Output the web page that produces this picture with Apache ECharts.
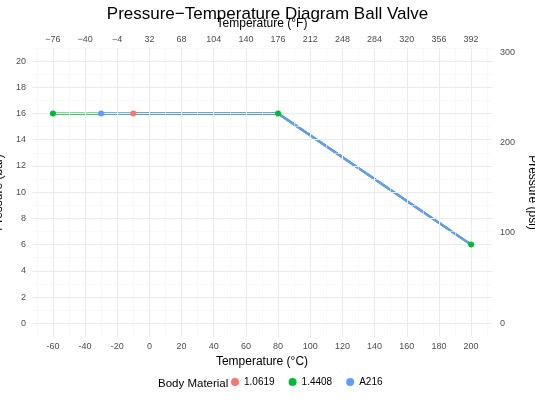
<!DOCTYPE html>
<html><head><meta charset="utf-8">
<script src="https://cdn.jsdelivr.net/npm/echarts@6/dist/echarts.min.js"></script>
<style>html,body{margin:0;padding:0;background:#fff}#c{width:535px;height:401px}</style>
</head><body><div id="c"></div>
<script>
// data
const materials = ['1.0619', '1.4408', 'A216'];
const colors = ['#F8766D', '#00BA38', '#619CFF'];
const lineData = {
  '1.0619': [[-10, 16], [80, 16], [200, 6]],
  '1.4408': [[-60, 16], [80, 16], [200, 6]],
  'A216':   [[-30, 16], [80, 16], [200, 6]]
};
const pointData = {
  '1.0619': [[-10, 16]],
  '1.4408': [[-60, 16], [80, 16], [200, 6]],
  'A216':   [[-30, 16]]
};
const cTicks = [-60, -40, -20, 0, 20, 40, 60, 80, 100, 120, 140, 160, 180, 200];
const cMinor = [-70, -50, -30, -10, 10, 30, 50, 70, 90, 110, 130, 150, 170, 190, 210];
const barTicks = [0, 2, 4, 6, 8, 10, 12, 14, 16, 18, 20];
const barMinor = [1, 3, 5, 7, 9, 11, 13, 15, 17, 19, 21];
const psiTicks = [0, 100, 200, 300];

const PSI = 14.5038;
const font = 'Liberation Sans';
const xMin = -73, xMax = 213, yMin = -1.05, yMax = 21.0;
const grey = '#4d4d4d';

const chart = echarts.init(document.getElementById('c'));

// grid lines as mark lines on an empty series
const major = { color: '#ebebeb', width: 1, type: 'solid' };
const minor = { color: '#f5f5f5', width: 0.6, type: 'solid' };
const gridMarks = []
  .concat(cTicks.map(v => ({ xAxis: v, lineStyle: major })))
  .concat(cMinor.map(v => ({ xAxis: v, lineStyle: minor })))
  .concat(barTicks.map(v => ({ yAxis: v, lineStyle: major })))
  .concat(barMinor.map(v => ({ yAxis: v, lineStyle: minor })));

const series = [{
  type: 'line', data: [], z: 0, silent: true,
  markLine: { silent: true, symbol: 'none', label: { show: false }, animation: false, data: gridMarks }
}];
materials.forEach((m, i) => {
  series.push({
    name: m, type: 'line', data: lineData[m], showSymbol: false, z: 2 + i,
    lineStyle: { color: colors[i], width: 2.2 }, itemStyle: { color: colors[i] },
    silent: true
  });
});
[0, 2, 1].forEach((i) => {
  const m = materials[i];
  series.push({
    name: m, type: 'scatter', data: pointData[m], symbolSize: 6, z: 10 + i,
    itemStyle: { color: colors[i], opacity: 1 }
  });
});

const noLine = { show: false };
chart.setOption({
  animation: false,
  textStyle: { fontFamily: font },
  title: { text: 'Pressure\u2212Temperature Diagram Ball Valve', left: 'center', top: 1,
    textStyle: { fontFamily: font, fontSize: 17, fontWeight: 'normal', color: '#000' } },
  grid: { left: 32, right: 43, top: 48, bottom: 64, outerBoundsMode: 'none', containLabel: false },
  legend: {
    bottom: 9, left: 226, icon: 'circle', itemWidth: 8, itemHeight: 8, itemGap: 14,
    data: materials.map((m, i) => ({ name: m, itemStyle: { color: colors[i] } })),
    textStyle: { fontSize: 10, color: '#000' }
  },
  graphic: [{ type: 'text', left: 158, bottom: 11,
    style: { text: 'Body Material', font: '11.5px "Liberation Sans"', fill: '#000' } }],
  xAxis: [
    { type: 'value', position: 'bottom', min: xMin, max: xMax,
      name: 'Temperature (\u00b0C)', nameLocation: 'middle', nameGap: 18,
      nameTextStyle: { fontSize: 12, color: '#000' },
      axisLine: noLine, axisTick: noLine, splitLine: noLine,
      axisLabel: { customValues: cTicks, fontSize: 9, color: grey, margin: 5 } },
    { type: 'value', position: 'top', min: xMin, max: xMax,
      name: 'Temperature (\u00b0F)', nameLocation: 'middle', nameGap: 17,
      nameTextStyle: { fontSize: 12, color: '#000' },
      axisLine: noLine, axisTick: noLine, splitLine: noLine,
      axisLabel: { customValues: cTicks, fontSize: 9, color: grey, margin: 4,
        formatter: v => String(Math.round(v * 1.8 + 32)).replace('-', '\u2212') } }
  ],
  yAxis: [
    { type: 'value', position: 'left', min: yMin, max: yMax,
      name: 'Pressure (bar)', nameLocation: 'middle', nameGap: 19,
      nameTextStyle: { fontSize: 12, color: '#000' },
      axisLine: noLine, axisTick: noLine, splitLine: noLine,
      axisLabel: { customValues: barTicks, fontSize: 9, color: grey, margin: 6 } },
    { type: 'value', position: 'right', min: yMin, max: yMax,
      name: 'Pressure (psi)', nameLocation: 'middle', nameGap: 30, nameRotate: -90,
      nameTextStyle: { fontSize: 12, color: '#000' },
      axisLine: noLine, axisTick: noLine, splitLine: noLine,
      axisLabel: { customValues: psiTicks.map(p => p / PSI), fontSize: 9, color: grey, margin: 8,
        formatter: v => String(Math.round(v * PSI)) } }
  ],
  series: series
});
window.addEventListener('resize', () => chart.resize());
</script></body></html>
